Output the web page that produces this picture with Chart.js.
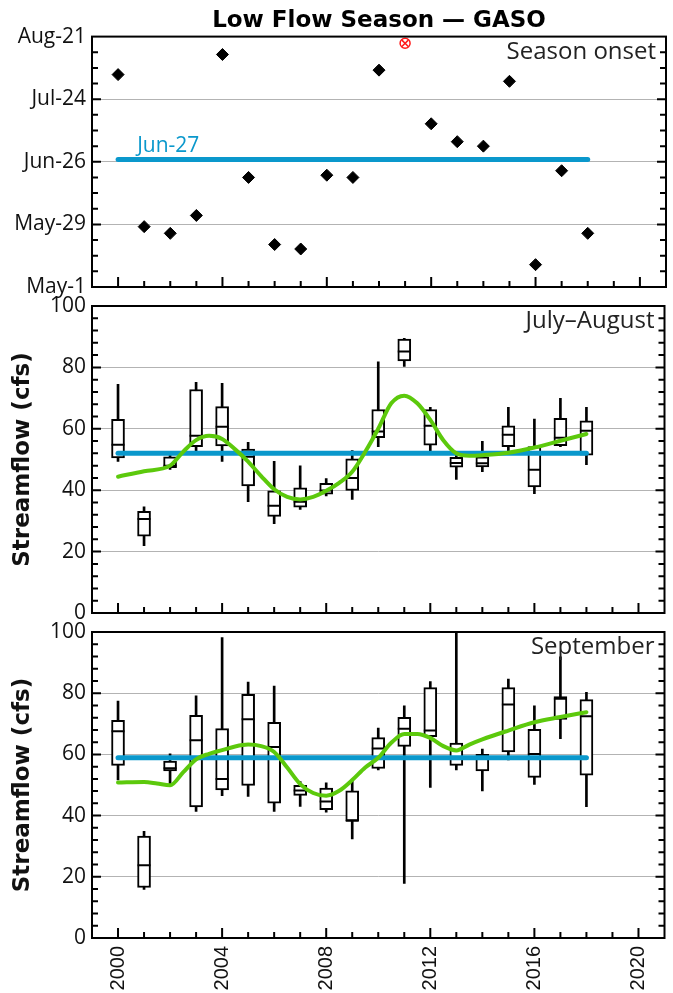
<!DOCTYPE html>
<html>
<head>
<meta charset="utf-8">
<script src="https://cdn.jsdelivr.net/npm/chart.js@4.4.0/dist/chart.umd.min.js"></script>
<style>
  html, body { margin: 0; padding: 0; background: #fff; }
  body { width: 673px; height: 993px; position: relative; overflow: hidden; }
  .panel { position: absolute; left: 0; width: 673px; }
</style>
</head>
<body>
<div class="panel" style="top:0;height:305px"><canvas id="onsetChart"></canvas></div>
<div class="panel" style="top:286px;height:340px"><canvas id="julAugChart"></canvas></div>
<div class="panel" style="top:612px;height:381px"><canvas id="sepChart"></canvas></div>
<script>
// data
var yearTicks = [2000, 2004, 2008, 2012, 2016, 2020];

var onsetYears = [2000, 2001, 2002, 2003, 2004, 2005, 2006, 2007, 2008, 2009, 2010, 2012, 2013, 2014, 2015, 2016, 2017, 2018];
var onsetDay = [216, 148, 145, 153, 225, 170, 140, 138, 171, 170, 218, 194, 186, 184, 213, 131, 173, 145];
var flaggedYears = [2011];
var flaggedDay = [230];
var onsetMedianDay = 178;
var onsetMedianText = "Jun-27";
var onsetTickDays = [121, 149, 177, 205, 233];
var onsetTickLabels = ["May-1", "May-29", "Jun-26", "Jul-24", "Aug-21"];

var flowTicks = [0, 20, 40, 60, 80, 100];
var boxYears = [2000, 2001, 2002, 2003, 2004, 2005, 2006, 2007, 2008, 2009, 2010, 2011, 2012, 2013, 2014, 2015, 2016, 2017, 2018];

var julAugMin    = [49.4, 21.9, 46.8, 52.9, 49.4, 36.3, 29.1, 33.7, 38.1, 37.0, 54.2, 80.3, 52.9, 43.5, 46.0, 52.9, 38.9, 54.2, 48.3];
var julAugQ1     = [50.5, 25.0, 47.3, 54.2, 54.4, 41.4, 31.5, 34.5, 38.7, 39.9, 57.1, 82.1, 54.7, 47.5, 47.6, 54.2, 41.1, 54.5, 51.4];
var julAugMedian = [54.8, 30.6, 48.0, 57.7, 60.7, 50.9, 34.9, 36.2, 39.9, 44.0, 59.1, 85.2, 61.0, 48.9, 48.8, 58.1, 46.7, 57.1, 59.4];
var julAugQ3     = [63.1, 33.1, 50.9, 72.8, 67.2, 53.4, 39.8, 40.8, 42.2, 50.2, 66.3, 89.2, 66.3, 50.7, 50.9, 61.0, 54.2, 63.4, 62.6];
var julAugMax    = [74.5, 34.6, 51.5, 75.1, 74.8, 55.6, 49.4, 47.9, 43.8, 52.9, 81.8, 89.5, 67.0, 51.8, 55.9, 67.0, 63.2, 69.9, 67.0];
var julAugOverall = 52.0;
var julAugTrendX = [2000, 2001, 2002, 2002.5, 2003, 2003.5, 2004, 2004.5, 2005, 2005.5, 2006, 2006.5, 2007, 2007.5, 2008, 2008.5, 2009, 2009.5, 2010, 2010.5, 2011, 2011.5, 2012, 2012.5, 2013, 2013.5, 2014, 2015, 2016, 2017, 2018];
var julAugTrendY = [44.4, 46.2, 48.0, 52.5, 56.3, 57.7, 56.7, 53.3, 49.3, 44.6, 40.3, 37.8, 37.0, 37.8, 39.8, 42.4, 46.0, 52.5, 60.0, 68.3, 70.8, 68.3, 62.9, 56.3, 52.0, 51.2, 51.4, 52.2, 53.9, 56.1, 58.3];

var sepMin    = [51.7, 15.9, 49.8, 41.4, 46.5, 46.3, 41.4, 43.0, 41.1, 32.4, 54.9, 17.8, 49.2, 54.9, 48.1, 58.2, 50.2, 65.1, 42.9];
var sepQ1     = [56.4, 16.5, 54.6, 42.8, 48.4, 49.9, 44.1, 46.6, 41.9, 38.3, 55.4, 62.6, 65.8, 56.4, 54.6, 60.8, 52.5, 71.4, 53.2];
var sepMedian = [67.6, 23.8, 55.5, 64.6, 52.0, 71.5, 62.4, 48.2, 44.6, 38.3, 61.9, 68.4, 67.8, 58.5, 58.9, 76.3, 60.1, 78.2, 72.5];
var sepQ3     = [71.1, 33.3, 57.8, 72.8, 68.4, 79.6, 70.5, 49.9, 49.0, 48.1, 65.5, 72.1, 81.8, 63.7, 60.0, 81.8, 68.2, 78.9, 77.9];
var sepMax    = [77.4, 34.9, 60.2, 79.1, 98.2, 83.6, 82.3, 51.1, 50.7, 51.8, 68.6, 75.9, 83.8, 112, 61.7, 84.6, 75.9, 91.9, 80.3];
var sepOverall = 58.9;
var sepTrendX = [2000, 2001, 2001.5, 2002, 2002.5, 2003, 2003.5, 2004, 2004.5, 2005, 2005.5, 2006, 2006.5, 2007, 2007.5, 2008, 2008.5, 2009, 2009.5, 2010, 2010.5, 2011, 2011.5, 2012, 2012.5, 2013, 2013.5, 2014, 2015, 2016, 2017, 2018];
var sepTrendY = [50.8, 51.0, 50.5, 49.9, 54.1, 58.4, 60.2, 61.4, 62.6, 63.2, 62.7, 60.8, 55.7, 50.3, 47.4, 46.5, 48.1, 51.6, 55.7, 58.9, 63.8, 66.7, 66.7, 65.4, 62.7, 61.3, 63.2, 64.9, 67.8, 70.5, 72.2, 73.8];

var BLUE = "#0a98cc";
var GREEN = "#5cc90c";
var FONT = "'Open Sans', 'DejaVu Sans', sans-serif";
var BOLD_FONT = "'DejaVu Sans', sans-serif";

// frame, inward ticks and small labels
var framePlugin = {
    id: "frame",
    afterDatasetsDraw: function (chart, args, opts) {
        var ctx = chart.ctx;
        var a = chart.chartArea;
        var xs = chart.scales.x;
        var ys = chart.scales.y;
        ctx.save();
        ctx.strokeStyle = "#000";
        ctx.lineWidth = 2;
        ctx.beginPath();
        for (var yr = 2000; yr <= 2020; yr++) {
            var px = xs.getPixelForValue(yr);
            var len = yr % 4 === 0 ? 10 : 6;
            ctx.moveTo(px, a.bottom);
            ctx.lineTo(px, a.bottom - len);
        }
        for (var v = ys.min + opts.minorStep; v < ys.max; v += opts.minorStep) {
            var py = ys.getPixelForValue(v);
            var l = (v - ys.min) % opts.majorStep === 0 ? 9 : 6;
            ctx.moveTo(a.left, py);
            ctx.lineTo(a.left + l, py);
            ctx.moveTo(a.right, py);
            ctx.lineTo(a.right - l, py);
        }
        ctx.stroke();
        ctx.strokeRect(a.left, a.top, a.right - a.left, a.bottom - a.top);

        ctx.fillStyle = "#222";
        ctx.font = "24px " + FONT;
        ctx.textAlign = "right";
        ctx.textBaseline = "alphabetic";
        ctx.fillText(opts.label, a.right - 10, a.top + 22);

        if (opts.note) {
            ctx.fillStyle = BLUE;
            ctx.font = "21px " + FONT;
            ctx.textAlign = "left";
            ctx.fillText(opts.note.text, xs.getPixelForValue(opts.note.x), ys.getPixelForValue(opts.note.y) - 8);
        }
        ctx.restore();
    },
};

function xScale(showLabels) {
    return {
        type: "linear",
        min: 1999,
        max: 2021,
        offset: false,
        display: showLabels,
        afterBuildTicks: function (scale) {
            scale.ticks = yearTicks.map(function (v) { return { value: v }; });
        },
        afterFit: function (scale) {
            if (showLabels) scale.height = 55;
            scale.paddingLeft = 0;
            scale.paddingRight = 0;
        },
        grid: { display: false, drawTicks: false, offset: false },
        border: { display: false },
        ticks: {
            autoSkip: false,
            minRotation: 90,
            maxRotation: 90,
            padding: 8,
            color: "#111",
            font: { family: "'Liberation Sans', Arial, sans-serif", size: 20 },
            callback: function (value) { return String(value); },
        },
    };
}

function yScale(min, max, tickValues, labelFn, title) {
    return {
        type: "linear",
        min: min,
        max: max,
        afterBuildTicks: function (scale) {
            scale.ticks = tickValues.map(function (v) { return { value: v }; });
        },
        afterFit: function (scale) {
            scale.width = 92;
            scale.paddingTop = 0;
            scale.paddingBottom = 0;
        },
        grid: { color: "#b3b3b3", lineWidth: 1, drawTicks: false },
        border: { display: false },
        ticks: {
            autoSkip: false,
            padding: 6,
            color: "#111",
            font: { family: FONT, size: 21 },
            callback: labelFn,
        },
        title: {
            display: !!title,
            text: title || "",
            color: "#111",
            font: { family: BOLD_FONT, size: 23, weight: "bold" },
            padding: { top: 9, bottom: 0 },
        },
    };
}

function boxDatasets(minArr, q1Arr, medArr, q3Arr, maxArr, overall, trendX, trendY) {
    return [
        {
            type: "bar",
            data: boxYears.map(function (yr, i) { return { x: yr, y: [minArr[i], maxArr[i]] }; }),
            backgroundColor: "#000",
            borderWidth: 0,
            barThickness: 2,
            grouped: false,
            order: 6,
        },
        {
            type: "bar",
            data: boxYears.map(function (yr, i) { return { x: yr, y: [q1Arr[i], q3Arr[i]] }; }),
            backgroundColor: "#fff",
            borderColor: "#000",
            borderWidth: 2,
            borderSkipped: false,
            barThickness: 13,
            grouped: false,
            order: 5,
        },
        {
            type: "scatter",
            data: boxYears.map(function (yr, i) { return { x: yr, y: medArr[i] }; }),
            pointStyle: "line",
            pointRadius: 6.5,
            borderColor: "#000",
            borderWidth: 2,
            order: 4,
        },
        {
            type: "line",
            data: [{ x: boxYears[0], y: overall }, { x: boxYears[boxYears.length - 1], y: overall }],
            borderColor: BLUE,
            borderWidth: 5,
            borderCapStyle: "round",
            pointRadius: 0,
            order: 3,
        },
        {
            type: "line",
            data: trendX.map(function (x, i) { return { x: x, y: trendY[i] }; }),
            borderColor: GREEN,
            borderWidth: 4,
            borderCapStyle: "round",
            cubicInterpolationMode: "monotone",
            pointRadius: 0,
            order: 2,
        },
    ];
}

function flowLabel(value) {
    return String(value);
}

document.addEventListener("DOMContentLoaded", function () {
    Chart.defaults.font.family = FONT;

    new Chart(document.getElementById("onsetChart").getContext("2d"), {
        type: "scatter",
        data: {
            datasets: [
                {
                    data: onsetYears.map(function (yr, i) { return { x: yr, y: onsetDay[i] }; }),
                    pointStyle: "rectRot",
                    pointRadius: 6,
                    backgroundColor: "#000",
                    borderColor: "#000",
                    borderWidth: 1,
                    order: 3,
                },
                {
                    data: flaggedYears.map(function (yr, i) { return { x: yr, y: flaggedDay[i] }; }),
                    pointStyle: "circle",
                    pointRadius: 5,
                    backgroundColor: "rgba(255,255,255,0)",
                    borderColor: "#ff1a1a",
                    borderWidth: 1.5,
                    order: 2,
                },
                {
                    data: flaggedYears.map(function (yr, i) { return { x: yr, y: flaggedDay[i] }; }),
                    pointStyle: "crossRot",
                    pointRadius: 4.5,
                    borderColor: "#ff1a1a",
                    borderWidth: 1.5,
                    order: 2,
                },
                {
                    type: "line",
                    data: [{ x: 2000, y: onsetMedianDay }, { x: 2018, y: onsetMedianDay }],
                    borderColor: BLUE,
                    borderWidth: 5,
                    borderCapStyle: "round",
                    pointRadius: 0,
                    order: 4,
                },
            ],
        },
        options: {
            responsive: true,
            maintainAspectRatio: false,
            animation: false,
            layout: { padding: { top: 0, right: 6, bottom: 18, left: 0 } },
            scales: {
                x: xScale(false),
                y: yScale(121, 233, onsetTickDays, function (value, index) { return onsetTickLabels[index]; }, null),
            },
            plugins: {
                legend: { display: false },
                tooltip: { enabled: false },
                title: {
                    display: true,
                    text: "Low Flow Season \u2014 GASO",
                    fullSize: false,
                    color: "#000",
                    font: { family: BOLD_FONT, size: 23, weight: "bold" },
                    padding: { top: 7, bottom: 2 },
                },
                frame: {
                    label: "Season onset",
                    minorStep: 7,
                    majorStep: 28,
                    note: { text: onsetMedianText, x: 2000.73, y: onsetMedianDay },
                },
            },
        },
        plugins: [framePlugin],
    });

    new Chart(document.getElementById("julAugChart").getContext("2d"), {
        type: "scatter",
        data: { datasets: boxDatasets(julAugMin, julAugQ1, julAugMedian, julAugQ3, julAugMax, julAugOverall, julAugTrendX, julAugTrendY) },
        options: {
            responsive: true,
            maintainAspectRatio: false,
            animation: false,
            layout: { padding: { top: 20, right: 6, bottom: 13, left: 0 } },
            scales: {
                x: xScale(false),
                y: yScale(0, 100, flowTicks, flowLabel, "Streamflow (cfs)"),
            },
            plugins: {
                legend: { display: false },
                tooltip: { enabled: false },
                frame: { label: "July\u2013August", minorStep: 4, majorStep: 20 },
            },
        },
        plugins: [framePlugin],
    });

    new Chart(document.getElementById("sepChart").getContext("2d"), {
        type: "scatter",
        data: { datasets: boxDatasets(sepMin, sepQ1, sepMedian, sepQ3, sepMax, sepOverall, sepTrendX, sepTrendY) },
        options: {
            responsive: true,
            maintainAspectRatio: false,
            animation: false,
            layout: { padding: { top: 20, right: 6, bottom: 0, left: 0 } },
            scales: {
                x: xScale(true),
                y: yScale(0, 100, flowTicks, flowLabel, "Streamflow (cfs)"),
            },
            plugins: {
                legend: { display: false },
                tooltip: { enabled: false },
                frame: { label: "September", minorStep: 4, majorStep: 20 },
            },
        },
        plugins: [framePlugin],
    });
});
</script>
</body>
</html>
